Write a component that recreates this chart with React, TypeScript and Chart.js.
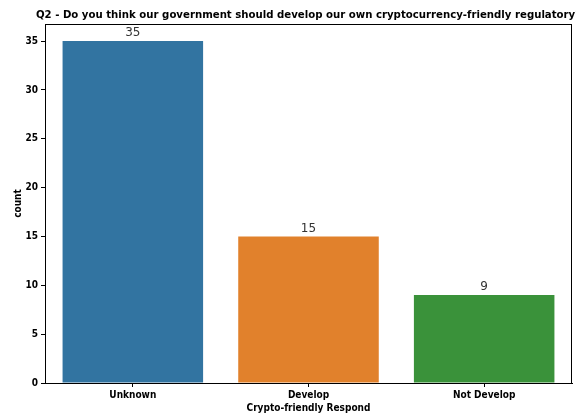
import React, { useEffect, useRef } from "react";
import { Chart, registerables } from "chart.js";

Chart.register(...registerables);

const categories = ["Unknown", "Develop", "Not Develop"];
const counts = [35, 15, 9];
const barColors = ["#3274a1", "#e1812c", "#3a923a"];
const yTicks = [0, 5, 10, 15, 20, 25, 30, 35];
const titleText = "Q2 - Do you think our government should develop our own cryptocurrency-friendly regulatory?";

const FONT = "'Liberation Sans Narrow', 'DejaVu Sans Condensed', 'Liberation Sans', Arial, sans-serif";

const overlay = {
  id: "overlay",
  afterDraw(chart: any) {
    const { ctx, chartArea } = chart;
    ctx.save();
    ctx.strokeStyle = "#000";
    ctx.lineWidth = 1;
    ctx.strokeRect(chartArea.left + 0.5, chartArea.top + 0.5, chartArea.right - chartArea.left - 1, chartArea.bottom - chartArea.top);
    ctx.fillStyle = "#000";
    ctx.font = `bold 11.3px ${FONT}`;
    ctx.textAlign = "center";
    ctx.textBaseline = "alphabetic";
    ctx.fillText(titleText, (chartArea.left + chartArea.right) / 2, chartArea.top - 6);
    const meta = chart.getDatasetMeta(0);
    ctx.font = `12px 'DejaVu Sans', sans-serif`;
    ctx.fillStyle = "#333";
    ctx.textBaseline = "bottom";
    meta.data.forEach((bar: any, i: number) => {
      ctx.fillText(String(counts[i]), bar.x, bar.y - 2);
    });
    ctx.restore();
  },
};

export default function App() {
  const ref = useRef<HTMLCanvasElement>(null);
  useEffect(() => {
    document.body.style.margin = "0";
    const chart = new Chart(ref.current!, {
      type: "bar",
      data: {
        labels: categories,
        datasets: [
          {
            data: counts,
            backgroundColor: barColors,
            barPercentage: 0.8,
            categoryPercentage: 1,
            borderWidth: 0,
          },
        ],
      },
      options: {
        animation: false,
        responsive: false,
        layout: { padding: { top: 24, right: 4, left: 0, bottom: 0 } },
        plugins: { legend: { display: false }, tooltip: { enabled: false }, title: { display: false } },
        scales: {
          x: {
            type: "category",
            offset: true,
            grid: { offset: false, drawOnChartArea: false, tickLength: 4, color: "#000" },
            border: { display: true, color: "#000" },
            ticks: { color: "#000", font: { family: FONT, size: 10, weight: "bold" }, padding: 2, maxRotation: 0 },
            title: { display: true, text: "Crypto-friendly Respond", color: "#000", font: { family: FONT, size: 10, weight: "bold" }, padding: { top: 0, bottom: 0 } },
            afterFit(scale: any) { scale.height = 31; },
          },
          y: {
            min: 0,
            max: 36.75,
            grid: { drawOnChartArea: false, tickLength: 4, color: "#000" },
            border: { display: true, color: "#000" },
            afterBuildTicks(scale: any) { scale.ticks = yTicks.map((v) => ({ value: v })); },
            ticks: { color: "#000", font: { family: FONT, size: 10, weight: "bold" }, padding: 3 },
            title: { display: true, text: "count", color: "#000", font: { family: FONT, size: 10, weight: "bold" }, padding: { top: 12, bottom: 4 } },
            afterFit(scale: any) { scale.width = 45; },
          },
        },
      },
      plugins: [overlay],
    } as any);
    return () => chart.destroy();
  }, []);
  return <canvas ref={ref} width={576} height={414} style={{ display: "block" }} />;
}
